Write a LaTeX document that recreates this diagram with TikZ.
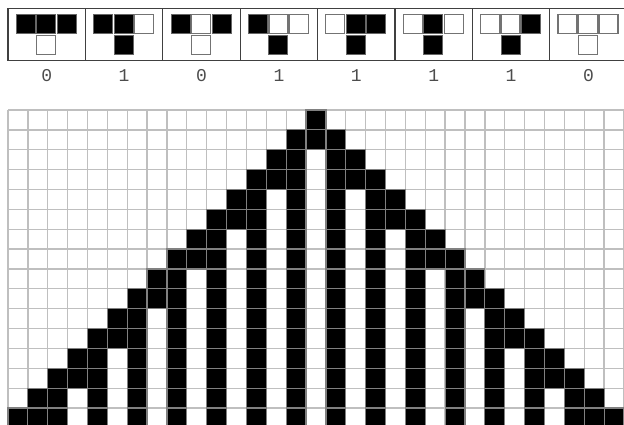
\documentclass[tikz,border=0pt]{standalone}
\usepackage{fontspec}
\newfontfamily\digitfont{Liberation Mono}
\begin{document}
\begin{tikzpicture}[x=1pt,y=-1pt,
  gridline/.style={draw=black!25, line width=1.3pt},
  oncell/.style={fill=black, draw=black!50, line width=1.2pt},
  boxline/.style={draw=black!75, line width=1.3pt},
  minion/.style={fill=black, draw=black!60, line width=1pt},
  minioff/.style={fill=white, draw=black!55, line width=1.3pt},
  digit/.style={font=\digitfont\fontsize{18}{18}\selectfont, text=black!70, inner sep=0pt}
]
\useasboundingbox (0,0) rectangle (624,425);
\fill[white] (0,0) rectangle (624,425);
\begin{scope}
\clip (0,0) rectangle (624,425);
% rule table boxes
\def\bw{77.4}
\foreach \i/\a/\b/\c/\o in {0/1/1/1/0,1/1/1/0/1,2/1/0/1/0,3/1/0/0/1,4/0/1/1/1,5/0/1/0/1,6/0/0/1/1,7/0/0/0/0}{
  \pgfmathsetmacro\bx{8+\bw*\i}
  \draw[boxline] (\bx,8.3) rectangle ++(\bw,52.4);
  \foreach \j/\v in {0/\a,1/\b,2/\c}{
    \pgfmathsetmacro\cx{\bx+8.2+20.5*\j}
    \ifnum\v=1
      \filldraw[minion] (\cx,14.8) rectangle ++(19,19);
    \else
      \filldraw[minioff] (\cx,14.8) rectangle ++(19,19);
    \fi
  }
  \pgfmathsetmacro\dx{\bx+8.2+20.5}
  \ifnum\o=1
    \filldraw[minion] (\dx,35.5) rectangle ++(19,19);
  \else
    \filldraw[minioff] (\dx,35.5) rectangle ++(19,19);
  \fi
  \node[digit] (l\i) at (\bx+\bw/2,76) {\o};
}
% evolution grid
\def\p{19.87}
\foreach \i in {0,...,31}{
  \draw[gridline] (8+\p*\i,110) -- (8+\p*\i,430);
}
\foreach \j in {0,...,16}{
  \draw[gridline] (8,110+\p*\j) -- (630,110+\p*\j);
}
\foreach \r in {0,...,15}{
  \foreach \c in {0,...,30}{
    \pgfmathtruncatemacro\k{abs(\c-15)}
    \pgfmathtruncatemacro\on{((\k==\r)||(\k==\r-1)||((mod(\k,2)==1)&&(\k<\r)))?1:0}
    \ifnum\on=1
      \filldraw[oncell] (8+\p*\c,110+\p*\r) rectangle ++(\p,\p);
    \fi
  }
}
\end{scope}
\end{tikzpicture}
\end{document}
